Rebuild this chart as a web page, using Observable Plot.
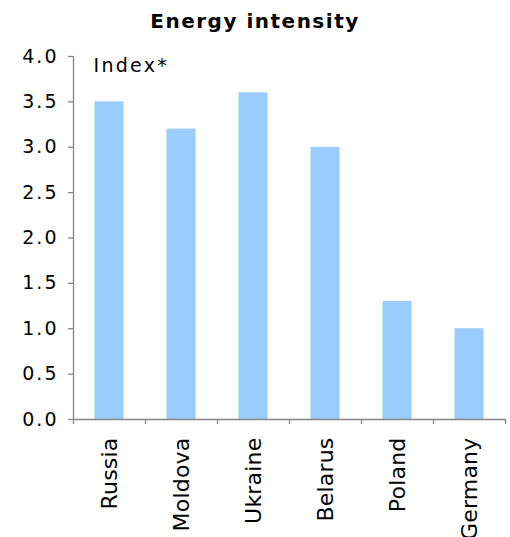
<!DOCTYPE html>
<html>
<head>
<meta charset="utf-8">
<script src="https://cdn.jsdelivr.net/npm/d3@7"></script>
<script src="https://cdn.jsdelivr.net/npm/@observablehq/plot@0.6"></script>
<style>
  body { margin: 0; background: #fff; }
  #title { height: 40px; box-sizing: border-box; padding-top: 9px; text-align: center;
           font: bold 20px "DejaVu Sans", sans-serif; letter-spacing: 1.5px; color: #000; }
  #chart g[aria-label="y-axis tick label"] text { letter-spacing: 2px; }
  #chart g[aria-label="x-axis tick label"] text { letter-spacing: 0.2px; }
  #chart .idx text { letter-spacing: 2.3px; }
</style>
</head>
<body>
<div id="title">Energy intensity</div>
<div id="chart"></div>
<script>
const countries = ["Russia", "Moldova", "Ukraine", "Belarus", "Poland", "Germany"];
const values = [3.5, 3.2, 3.6, 3.0, 1.3, 1.0];
const yTicks = [0, 0.5, 1.0, 1.5, 2.0, 2.5, 3.0, 3.5, 4.0];
const unitLabel = "Index*";

const data = countries.map((c, i) => ({country: c, value: values[i]}));

const W = 510, H = 497, mL = 73, mR = 5, mT = 16, mB = 118;
const step = (W - mL - mR) / countries.length;
const half = step / 2;
const axisColor = "#868686";

const plot = Plot.plot({
  width: W, height: H,
  marginLeft: mL, marginRight: mR, marginTop: mT, marginBottom: mB,
  style: {fontFamily: "DejaVu Sans, sans-serif", background: "#fff", color: "#000"},
  x: {domain: countries, padding: 0, label: null},
  y: {domain: [0, 4], label: null},
  marks: [
    Plot.barY(data, {x: "country", y: "value", fill: "#99CCFF", insetLeft: 21.5, insetRight: 21.5}),
    Plot.ruleY([0], {stroke: axisColor, strokeWidth: 1.3}),
    Plot.ruleX([countries[0]], {dx: -half, y1: 0, y2: 4, stroke: axisColor, strokeWidth: 1.3}),
    Plot.ruleX(countries, {x: d => d, dx: -half, y1: 0, y2: 0, insetTop: 0, insetBottom: -5, stroke: axisColor, strokeWidth: 1.3}),
    Plot.ruleX([countries[countries.length - 1]], {dx: half, y1: 0, y2: 0, insetTop: 0, insetBottom: -5, stroke: axisColor, strokeWidth: 1.3}),
    Plot.axisY({ticks: yTicks, tickFormat: d3.format(".1f"), tickSize: 5, tickPadding: 10, fontSize: 19, stroke: axisColor, strokeWidth: 1.3, label: null}),
    Plot.axisX({tickSize: 0, tickRotate: -90, tickPadding: 18, fontSize: 22, label: null}),
    Plot.text([unitLabel], {frameAnchor: "top-left", textAnchor: "start", lineAnchor: "top", dx: 20, dy: 2, fontSize: 19, className: "idx"})
  ]
});
document.getElementById("chart").appendChild(plot);
</script>
</body>
</html>
